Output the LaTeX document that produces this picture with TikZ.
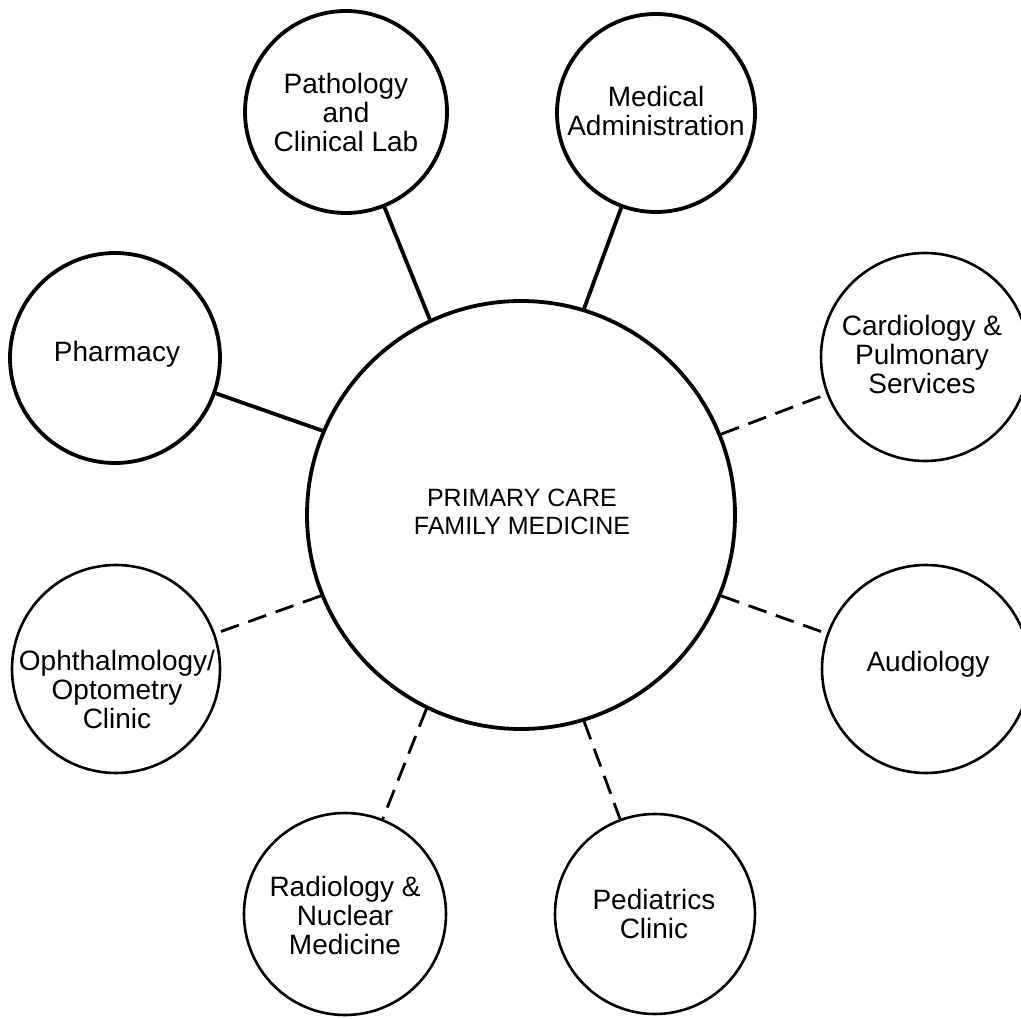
\documentclass[tikz,border=0pt]{standalone}
\usepackage{fontspec}
\setmainfont{Liberation Sans}
\begin{document}
\begin{tikzpicture}[x=1pt,y=-1pt,
  hub/.style={circle,draw,line width=3.8pt,inner sep=0pt,minimum size=428pt},
  bigdept/.style={circle,draw,line width=3.8pt,inner sep=0pt},
  smalldept/.style={circle,draw,line width=2.6pt,inner sep=0pt},
  lbl/.style={align=center,inner sep=0pt,font=\fontsize{28}{29}\selectfont},
  hublbl/.style={align=center,inner sep=0pt,font=\fontsize{25}{28}\selectfont},
  solidlink/.style={line width=3.8pt},
  dashlink/.style={line width=2.8pt,dash pattern=on 19pt off 10pt}]
\useasboundingbox (0,0) rectangle (1021,1019);
\node[hub] (pc) at (521,515) {};
\node[hublbl] (pct) at (522,512) {PRIMARY CARE\\FAMILY MEDICINE};

\node[bigdept,minimum size=202pt] (pat) at (346,112) {};
\node[lbl] (patt) at (346,112) {Pathology\\and\\Clinical Lab};
\node[bigdept,minimum size=198pt] (med) at (656,113) {};
\node[lbl] (medt) at (656,111) {Medical\\Administration};
\node[bigdept,minimum size=210pt] (pha) at (115,358) {};
\node[lbl] (phat) at (117,354) {Pharmacy};
\node[smalldept,minimum size=208pt] (car) at (925,357) {};
\node[lbl] (cart) at (922,354) {Cardiology \&\\Pulmonary\\Services};
\node[smalldept,minimum size=208pt] (oph) at (116,669) {};
\node[lbl] (opht) at (117,689) {Ophthalmology/\\Optometry\\Clinic};
\node[smalldept,minimum size=208pt] (aud) at (926,669) {};
\node[lbl] (audt) at (928,664) {Audiology};
\node[smalldept,minimum size=202pt] (rad) at (345,914) {};
\node[lbl] (radt) at (345,915) {Radiology \&\\Nuclear\\Medicine};
\node[smalldept,minimum size=200pt] (ped) at (655,914) {};
\node[lbl] (pedt) at (654,914) {Pediatrics\\Clinic};

\draw[solidlink] (pc.115.6) -- (pat);
\draw[solidlink] (pc.73.6) -- (med);
\draw[solidlink] (pc.157.4) -- (pha);
\draw[dashlink] (pc.22.6) -- (car);
\draw[dashlink] (pc.202.4) -- (oph);
\draw[dashlink] (pc.-22.4) -- (aud);
\draw[dashlink] (pc.244.1) -- (rad);
\draw[dashlink] (pc.-73.9) -- (ped);
\end{tikzpicture}
\end{document}
